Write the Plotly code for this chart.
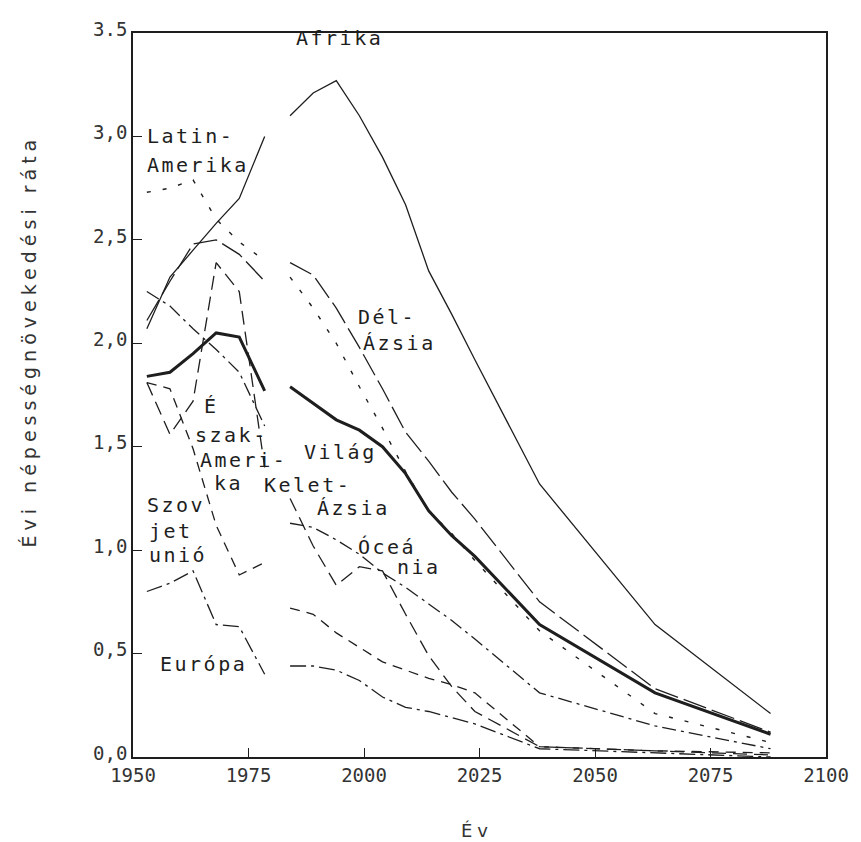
import plotly.graph_objects as go

# ---- data -------------------------------------------------------------
HIST_YEARS = [1953, 1958, 1963, 1968, 1973, 1978.5]
PROJ_YEARS = [1984, 1989, 1994, 1999, 2004, 2009, 2014, 2019, 2024, 2038, 2063, 2088]

afrika_hist = [2.07, 2.32, 2.45, 2.58, 2.70, 3.00]
afrika_proj = [3.10, 3.21, 3.27, 3.10, 2.90, 2.67, 2.35, 2.14, 1.92, 1.32, 0.64, 0.21]

latin_hist = [2.73, 2.75, 2.79, 2.60, 2.49, 2.40]
latin_proj = [2.32, 2.17, 2.00, 1.79, 1.59, 1.38, 1.19, 1.08, 0.95, 0.61, 0.21, 0.07]

delazsia_hist = [2.11, 2.30, 2.48, 2.50, 2.43, 2.30]
delazsia_proj = [2.39, 2.33, 2.17, 1.98, 1.78, 1.57, 1.43, 1.28, 1.15, 0.75, 0.33, 0.12]

vilag_hist = [1.84, 1.86, 1.95, 2.05, 2.03, 1.77]
vilag_proj = [1.79, 1.71, 1.63, 1.58, 1.50, 1.37, 1.19, 1.07, 0.97, 0.64, 0.31, 0.11]

keletazsia_hist = [1.81, 1.56, 1.72, 2.39, 2.25, 1.40]
keletazsia_proj = [1.25, 1.02, 0.83, 0.92, 0.90, 0.69, 0.49, 0.34, 0.22, 0.05, 0.03, 0.01]

oceania_hist = [2.25, 2.18, 2.07, 1.97, 1.86, 1.60]
oceania_proj = [1.13, 1.11, 1.05, 0.98, 0.89, 0.82, 0.74, 0.66, 0.57, 0.31, 0.15, 0.04]

eszakam_hist = [1.81, 1.78, 1.49, 1.12, 0.88, 0.94]
eszakam_proj = [0.72, 0.69, 0.60, 0.53, 0.46, 0.42, 0.38, 0.35, 0.31, 0.05, 0.03, 0.02]

europa_hist = [0.80, 0.84, 0.90, 0.64, 0.63, 0.40]
europa_proj = [0.44, 0.44, 0.42, 0.37, 0.29, 0.24, 0.22, 0.19, 0.16, 0.04, 0.02, 0.00]

Y_TICKS = [0, 0.5, 1.0, 1.5, 2.0, 2.5, 3.0, 3.5]
Y_TICK_LABELS = ["0,0", "0,5", "1,0", "1,5", "2,0", "2,5", "3,0", "3.5"]
X_TICKS = [1950, 1975, 2000, 2025, 2050, 2075, 2100]
X_TICK_LABELS = ["1950", "1975", "2000", "2025", "2050", "2075", "2100"]

X_TITLE = "Év"
Y_TITLE = "Évi népességnövekedési ráta"

# ---- figure -----------------------------------------------------------
INK = "#1e1e1e"
MONO = "DejaVu Sans Mono"

series = [
    ("Afrika", afrika_hist, afrika_proj, "solid", 1.3),
    ("Latin-Amerika", latin_hist, latin_proj, "4px,12px", 1.4),
    ("Dél-Ázsia", delazsia_hist, delazsia_proj, "24px,6px", 1.3),
    ("Világ", vilag_hist, vilag_proj, "solid", 3.0),
    ("Kelet-Ázsia", keletazsia_hist, keletazsia_proj, "14px,7px", 1.3),
    ("Óceánia", oceania_hist, oceania_proj, "14px,5px,3px,5px", 1.3),
    ("Észak-Amerika", eszakam_hist, eszakam_proj, "10px,7px", 1.3),
    ("Európa", europa_hist, europa_proj, "16px,5px,3px,5px", 1.3),
]

fig = go.Figure()
for name, h, p, dash, w in series:
    fig.add_trace(go.Scatter(
        x=HIST_YEARS + [None] + PROJ_YEARS,
        y=h + [None] + p,
        mode="lines", name=name, connectgaps=False,
        line=dict(color=INK, width=w, dash=dash),
        hoverinfo="x+y+name",
    ))

# in-plot labels (one annotation per printed line, left edge anchored)
labels = [
    ("Afrika", 1984.9, 3.476),
    ("Latin-", 1952.6, 3.002), ("Amerika", 1952.6, 2.862),
    ("Dél-", 1998.2, 2.127), ("Ázsia", 1999.3, 2.001),
    ("É", 1965.0, 1.697), ("szak-", 1962.9, 1.557),
    ("Ameri-", 1964.1, 1.436), ("ka", 1967.1, 1.325),
    ("Világ", 1986.5, 1.474),
    ("Kelet-", 1978.0, 1.315), ("Ázsia", 1989.4, 1.204),
    ("Óceá", 1998.2, 1.015), ("nia", 2006.8, 0.918),
    ("Szov", 1952.6, 1.218), ("jet", 1953.0, 1.093), ("unió", 1953.0, 0.977),
    ("Európa", 1955.4, 0.450),
]
for text, x, y in labels:
    fig.add_annotation(x=x, y=y, xref="x", yref="y", showarrow=False,
                       text=f'<span style="letter-spacing:2.5px">{text}</span>',
                       xanchor="left", yanchor="middle",
                       font=dict(family=MONO, size=20, color=INK))

fig.add_annotation(text=f'<span style="letter-spacing:5px">{X_TITLE}</span>',
                   x=0.497, y=-0.101, xref="paper", yref="paper",
                   showarrow=False, xanchor="center", yanchor="middle",
                   font=dict(family="DejaVu Sans", size=18, color="#333"))
fig.add_annotation(text=f'<span style="letter-spacing:5px">{Y_TITLE}</span>',
                   x=-0.150, y=0.574, xref="paper", yref="paper",
                   showarrow=False, textangle=-90, xanchor="center", yanchor="middle",
                   font=dict(family="DejaVu Sans", size=19, color="#333"))

# full-window figure; plot area at x 133..833, y 33..757
fig.update_layout(
    width=861, height=842,
    margin=dict(l=133, r=28, t=33, b=85),
    paper_bgcolor="white", plot_bgcolor="white",
    showlegend=False,
    xaxis=dict(range=[1950, 2100], tickvals=X_TICKS, ticktext=X_TICK_LABELS,
               ticks="inside", ticklen=9, tickwidth=1.2, tickcolor=INK,
               showline=True, linecolor=INK, linewidth=1.6, mirror=True,
               showgrid=False, zeroline=False,
               tickfont=dict(family=MONO, size=19, color="#333")),
    yaxis=dict(range=[0, 3.5], tickvals=Y_TICKS, ticktext=Y_TICK_LABELS,
               ticks="inside", ticklen=9, tickwidth=1.2, tickcolor=INK,
               showline=True, linecolor=INK, linewidth=1.6, mirror=True,
               showgrid=False, zeroline=False, ticklabelshift=-4,
               tickfont=dict(family=MONO, size=19, color="#333")),
)

# remove the browser's default 8px page margin so the figure fills the window exactly
fig.write_html("out.html", config={"displayModeBar": False},
               post_script="document.body.style.margin='0';")
